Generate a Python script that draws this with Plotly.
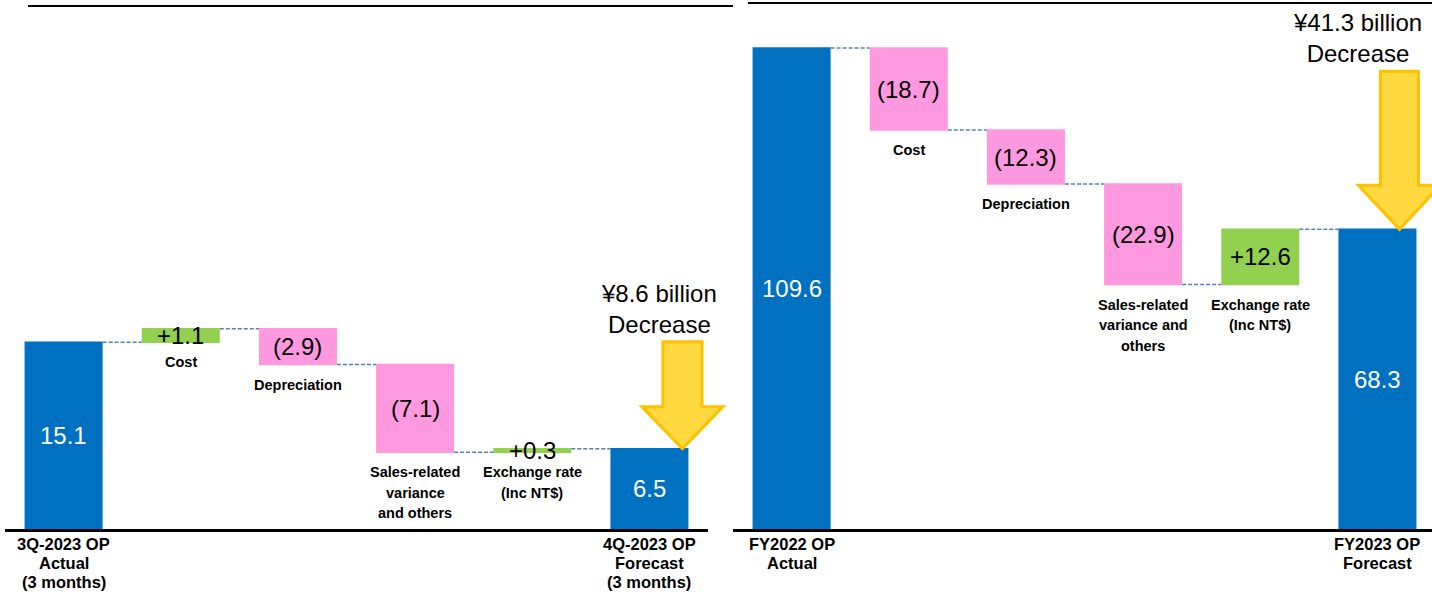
import plotly.graph_objects as go

# ---- Quarterly operating-profit bridge (¥ billion) ----
q_start_label = "3Q-2023 OP<br>Actual<br>(3 months)"
q_end_label = "4Q-2023 OP<br>Forecast<br>(3 months)"
q_steps = ["Cost", "Depreciation", "Sales-related<br>variance<br>and others", "Exchange rate<br>(Inc NT$)"]
q_start = 15.1
q_deltas = [1.1, -2.9, -7.1, 0.3]
q_end = 6.5

# ---- Full-year operating-profit bridge (¥ billion) ----
fy_start_label = "FY2022 OP<br>Actual"
fy_end_label = "FY2023 OP<br>Forecast"
fy_steps = ["Cost", "Depreciation", "Sales-related<br>variance and<br>others", "Exchange rate<br>(Inc NT$)"]
fy_start = 109.6
fy_deltas = [-18.7, -12.3, -22.9, 12.6]
fy_end = 68.3

W, H = 1432, 592
FONT = "Liberation Sans, Arial, sans-serif"
BLUE = "#0070C0"
PINK = "#FF99DF"
GREEN = "#92D050"
ARROW_FILL = "#FFD93F"
ARROW_LINE = "#FFC000"
CONNECTOR = "#4F81BD"

BASE_PX = 529          # pixel row of the category axis
STEP_PX = 117.17       # pixel width of one category slot

panels = [
    dict(start=q_start, deltas=q_deltas, end=q_end,
         start_label=q_start_label, end_label=q_end_label, steps=q_steps,
         x_px=(5, 708), ppu=12.36,
         arrow=dict(dx=33, shaft=19.5, head=40.5, head_h=42, length=107),
         note_dx=-23),
    dict(start=fy_start, deltas=fy_deltas, end=fy_end,
         start_label=fy_start_label, end_label=fy_end_label, steps=fy_steps,
         x_px=(733, 1432), ppu=4.389,
         arrow=dict(dx=22, shaft=19, head=41, head_h=44, length=158),
         note_dx=-42),
]

fig = go.Figure()
shapes = []
annotations = []


def fmt_delta(v):
    return f"+{v:.1f}" if v > 0 else f"({abs(v):.1f})"


def stacked_label(x, y, xref, yref, text, size, gap, first_shift):
    """Place a multi-line bold label one line at a time with a fixed line pitch."""
    for j, line in enumerate(text.split("<br>")):
        annotations.append(dict(x=x, y=y, xref=xref, yref=yref, text=f"<b>{line}</b>",
                                showarrow=False, yanchor="top",
                                yshift=first_shift - j * gap,
                                font=dict(family=FONT, size=size, color="black")))


for k, p in enumerate(panels):
    sfx = "" if k == 0 else str(k + 1)
    xa, ya = "x" + sfx, "y" + sfx
    n = len(p["deltas"]) + 2
    xs = list(range(n))
    ys = [p["start"]] + p["deltas"] + [p["end"]]
    measures = ["absolute"] + ["relative"] * len(p["deltas"]) + ["total"]

    fig.add_trace(go.Waterfall(
        x=xs, y=ys, measure=measures,
        xaxis=xa, yaxis=ya,
        increasing=dict(marker=dict(color=GREEN)),
        decreasing=dict(marker=dict(color=PINK)),
        totals=dict(marker=dict(color=BLUE)),
        connector=dict(mode="between", line=dict(color=CONNECTOR, width=1.5, dash="4px,2px")),
        textinfo="none", hoverinfo="skip", showlegend=False,
    ))

    x0_px, x1_px = p["x_px"]
    r0 = -0.5
    r1 = r0 + (x1_px - x0_px) / STEP_PX
    y_top = BASE_PX / p["ppu"]
    dom_x = [x0_px / W, min(1.0, x1_px / W)]
    dom_y = [(H - BASE_PX) / H, 1.0]

    fig.update_layout(**{
        "xaxis" + sfx: dict(domain=dom_x, range=[r0, r1], showgrid=False, zeroline=False,
                             showticklabels=False, ticks="", showline=True,
                             linecolor="black", linewidth=3, anchor=ya, fixedrange=True),
        "yaxis" + sfx: dict(domain=dom_y, range=[0, y_top], visible=False,
                             anchor=xa, fixedrange=True),
    })

    # value labels inside / on each bar
    run = p["start"]
    annotations.append(dict(x=0, y=run / 2, xref=xa, yref=ya, text=f"{p['start']:.1f}",
                            showarrow=False, font=dict(family=FONT, size=24, color="white")))
    for i, d in enumerate(p["deltas"], start=1):
        lo, hi = sorted([run, run + d])
        annotations.append(dict(x=i, y=(lo + hi) / 2, xref=xa, yref=ya, text=fmt_delta(d),
                                showarrow=False, font=dict(family=FONT, size=24, color="black")))
        stacked_label(i, lo, xa, ya, p["steps"][i - 1], size=14.5, gap=20.5, first_shift=-10)
        run += d
    annotations.append(dict(x=n - 1, y=p["end"] / 2, xref=xa, yref=ya, text=f"{p['end']:.1f}",
                            showarrow=False, font=dict(family=FONT, size=24, color="white")))

    # category labels under the axis for the two totals
    for i, lab in [(0, p["start_label"]), (n - 1, p["end_label"])]:
        stacked_label(i, 0, xa, ya, lab, size=16.5, gap=19, first_shift=-4)

    # downward arrow onto the final bar
    a = p["arrow"]
    ux = 1.0 / STEP_PX
    uy = 1.0 / p["ppu"]
    tip_x = (n - 1) + a["dx"] * ux
    tip_y = p["end"]
    neck_y = tip_y + a["head_h"] * uy
    top_y = tip_y + a["length"] * uy
    pts = [
        (tip_x, tip_y),
        (tip_x - a["head"] * ux, neck_y),
        (tip_x - a["shaft"] * ux, neck_y),
        (tip_x - a["shaft"] * ux, top_y),
        (tip_x + a["shaft"] * ux, top_y),
        (tip_x + a["shaft"] * ux, neck_y),
        (tip_x + a["head"] * ux, neck_y),
    ]
    to_dom = lambda x: (x - r0) / (r1 - r0)
    path = "M " + " L ".join(f"{to_dom(x):.5f},{y:.4f}" for x, y in pts) + " Z"
    shapes.append(dict(type="path", path=path, xref=xa + " domain", yref=ya,
                       fillcolor=ARROW_FILL, line=dict(color=ARROW_LINE, width=3), layer="above"))

    drop = p["start"] - p["end"]
    annotations.append(dict(x=to_dom(tip_x), y=top_y, xref=xa + " domain", yref=ya,
                            text=f"¥{drop:.1f} billion<br>Decrease", showarrow=False,
                            xanchor="center", yanchor="bottom", xshift=p["note_dx"], yshift=2,
                            font=dict(family=FONT, size=24, color="black")))

# header rules above each panel
shapes.append(dict(type="line", xref="paper", yref="paper", x0=28 / W, x1=733 / W,
                   y0=1 - 6 / H, y1=1 - 6 / H, line=dict(color="black", width=2)))
shapes.append(dict(type="line", xref="paper", yref="paper", x0=748 / W, x1=1.0,
                   y0=1 - 3 / H, y1=1 - 3 / H, line=dict(color="black", width=2)))

fig.update_layout(
    width=W, height=H,
    margin=dict(l=0, r=0, t=0, b=0),
    paper_bgcolor="white", plot_bgcolor="white",
    waterfallgap=0.334,
    shapes=shapes, annotations=annotations,
    font=dict(family=FONT),
)

fig.write_html("out.html", config={"displayModeBar": False})
